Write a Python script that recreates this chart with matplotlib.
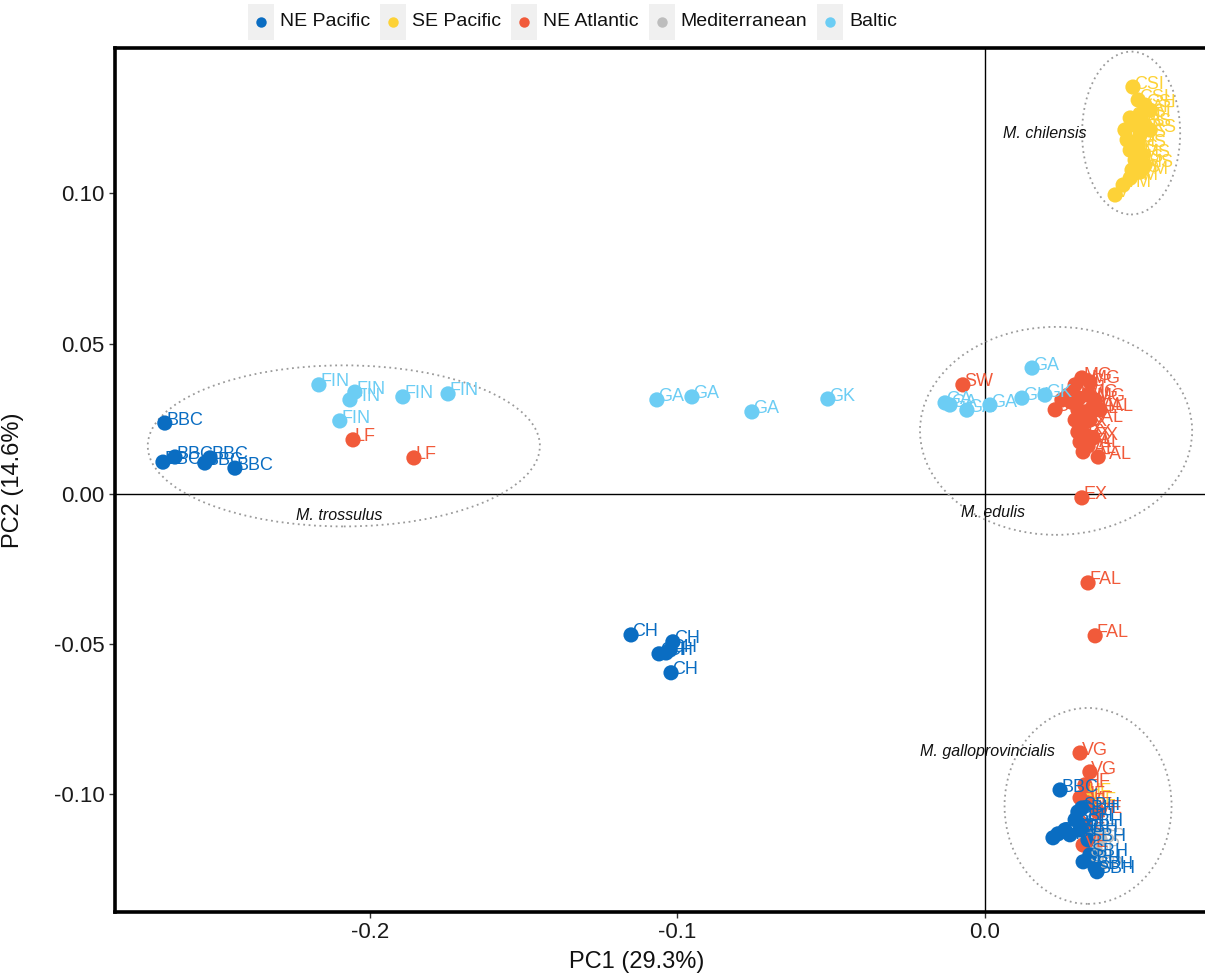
import matplotlib
matplotlib.use("Agg")
import matplotlib.pyplot as plt
from matplotlib.patches import Ellipse, Rectangle
from matplotlib.ticker import FormatStrFormatter

plt.rcParams['font.family'] = ['Liberation Sans', 'DejaVu Sans']

# --- data (PC scores) ---
regions = ["NE Pacific", "SE Pacific", "NE Atlantic", "Mediterranean", "Baltic"]
colors = ["#0a6dc2", "#fdd237", "#f15a3a", "#bdbdbd", "#6ccdf4"]

pc1_ne_pacific = [-0.2667, -0.2673, -0.2634, -0.2537, -0.2520, -0.2439,
                  -0.1151, -0.1060, -0.1037, -0.1015, -0.1024, -0.1021,
                  0.0244, 0.0221, 0.0237, 0.0260, 0.0293, 0.0302, 0.0315, 0.0325,
                  0.0335, 0.0319, 0.0341, 0.0364, 0.0358, 0.0276, 0.0309]
pc2_ne_pacific = [0.0236, 0.0106, 0.0123, 0.0103, 0.0120, 0.0086,
                  -0.0469, -0.0532, -0.0529, -0.0492, -0.0519, -0.0595,
                  -0.0985, -0.1144, -0.1131, -0.1118, -0.1084, -0.1058, -0.1045, -0.1101,
                  -0.1151, -0.1224, -0.1201, -0.1257, -0.1244, -0.1134, -0.1118]
lab_ne_pacific = ["BBC"] * 6 + ["CH"] * 6 + ["BBC", "CH", "CH", "SBH", "SBH", "SBH", "SBH", "SBH",
                                             "SBH", "SBH", "SBH", "SBH", "SBH", "CH", "SBH"]

pc1_se_pacific = [0.0481, 0.0498, 0.0520, 0.0537, 0.0504, 0.0472, 0.0488, 0.0520, 0.0455,
                  0.0504, 0.0537, 0.0462, 0.0498, 0.0472, 0.0511, 0.0488, 0.0520, 0.0478,
                  0.0504, 0.0472, 0.0449, 0.0423, 0.0330, 0.0345]
pc2_se_pacific = [0.1354, 0.1311, 0.1294, 0.1277, 0.1261, 0.1251, 0.1228, 0.1228, 0.1211,
                  0.1194, 0.1211, 0.1178, 0.1161, 0.1144, 0.1128, 0.1111, 0.1094, 0.1078,
                  0.1071, 0.1051, 0.1028, 0.0995, -0.1000, -0.1030]
lab_se_pacific = ["CSI", "CSI", "CSI", "AF", "CSI", "CSI", "RS", "RS", "RS",
                  "RS", "RS", "MS", "MS", "MS", "MS", "MS", "MS", "MS",
                  "VM", "VM", "VM", "V", "HF", "HF"]

pc1_ne_atlantic = [-0.2055, -0.1857, -0.0072,
                   0.0228, 0.0250, 0.0270, 0.0293, 0.0315, 0.0341, 0.0280, 0.0306, 0.0335,
                   0.0358, 0.0302, 0.0325, 0.0348, 0.0374, 0.0293, 0.0315, 0.0341, 0.0302,
                   0.0328, 0.0351, 0.0309, 0.0335, 0.0319, 0.0368,
                   0.0315, 0.0335, 0.0358,
                   0.0309, 0.0341, 0.0325, 0.0309, 0.0335, 0.0367, 0.0319, 0.0315]
pc2_ne_atlantic = [0.0180, 0.0120, 0.0363,
                   0.0280, 0.0313, 0.0329, 0.0363, 0.0386, 0.0373, 0.0306, 0.0319, 0.0329,
                   0.0313, 0.0280, 0.0273, 0.0286, 0.0280, 0.0246, 0.0230, 0.0246, 0.0206,
                   0.0196, 0.0186, 0.0173, 0.0160, 0.0140, 0.0123,
                   -0.0013, -0.0296, -0.0472,
                   -0.0862, -0.0925, -0.0968, -0.1011, -0.1028, -0.1058, -0.1168, -0.1111]
lab_ne_atlantic = ["LF", "LF", "SW",
                   "SW", "SW", "SW", "MG", "MG", "MG", "SW", "SW", "MG",
                   "MG", "FAL", "FAL", "FAL", "FAL", "EX", "EX", "FAL", "EX",
                   "EX", "EX", "FAL", "FAL", "FAL", "FAL",
                   "EX", "FAL", "FAL",
                   "VG", "VG", "HF", "HF", "VE", "VE", "VE", "VE"]

pc1_mediterranean = [0.0341, 0.0358, 0.0351, 0.0335, 0.0374, 0.0367]
pc2_mediterranean = [-0.1168, -0.1184, -0.1134, -0.1218, -0.1151, -0.1244]
lab_mediterranean = ["SP", "SP", "SP", "SP", "SP", "SP"]

pc1_baltic = [-0.2166, -0.2049, -0.2065, -0.1893, -0.1746, -0.2098,
              -0.1067, -0.0953, -0.0758, -0.0511,
              0.0153, -0.0130, -0.0114, -0.0059, 0.0016, 0.0120, 0.0195]
pc2_baltic = [0.0363, 0.0339, 0.0313, 0.0323, 0.0333, 0.0243,
              0.0313, 0.0323, 0.0273, 0.0316,
              0.0419, 0.0303, 0.0296, 0.0279, 0.0296, 0.0319, 0.0329]
lab_baltic = ["FIN"] * 6 + ["GA", "GA", "GA", "GK",
                            "GA", "GA", "GA", "GA", "GA", "GK", "GK"]

# species groups: centre, width, height (PC units) and annotation position
species = ["M. trossulus", "M. edulis", "M. chilensis", "M. galloprovincialis"]
ell_cx = [-0.2085, 0.0231, 0.0475, 0.0335]
ell_cy = [0.0160, 0.0210, 0.1201, -0.1038]
ell_w = [0.1275, 0.0885, 0.0319, 0.0543]
ell_h = [0.0536, 0.0692, 0.0542, 0.0652]
sp_x = [-0.2101, 0.0026, 0.0195, 0.0007]
sp_y = [-0.0070, -0.0060, 0.1201, -0.0858]

groups = [
    (pc1_ne_pacific, pc2_ne_pacific, lab_ne_pacific),
    (pc1_se_pacific, pc2_se_pacific, lab_se_pacific),
    (pc1_ne_atlantic, pc2_ne_atlantic, lab_ne_atlantic),
    (pc1_mediterranean, pc2_mediterranean, lab_mediterranean),
    (pc1_baltic, pc2_baltic, lab_baltic),
]

W, H = 1205, 974
fig = plt.figure(figsize=(W / 100, H / 100), dpi=100)
ax = fig.add_axes([115 / W, 62 / H, (1212 - 115) / W, (912 - 48) / H])
ax.set_xlim(-0.2829, 0.0738)
ax.set_ylim(-0.1391, 0.1484)

ax.axhline(0, color="black", lw=1.0, zorder=1)
ax.axvline(0, color="black", lw=1.0, zorder=1)

for cx, cy, w, h in zip(ell_cx, ell_cy, ell_w, ell_h):
    ax.add_patch(Ellipse((cx, cy), w, h, fill=False, ec="#9a9a9a",
                         ls=(0, (1, 2)), lw=1.3, zorder=2))

# draw order: Mediterranean under everything, then the rest
order = [3, 1, 2, 0, 4]
for i in order:
    x, y, _ = groups[i]
    ax.scatter(x, y, s=120, color=colors[i], edgecolors="none", zorder=3)
for i in order:
    x, y, labs = groups[i]
    for xi, yi, lab in zip(x, y, labs):
        ax.annotate(lab, (xi, yi), xytext=(1, -4), textcoords="offset points",
                    ha="left", va="bottom", fontsize=13, color=colors[i], zorder=4)

for name, tx, ty in zip(species, sp_x, sp_y):
    ax.text(tx, ty, name, ha="center", va="center", fontsize=11.5,
            style="italic", color="#111111", zorder=5)

ax.set_xticks([-0.2, -0.1, 0.0])
ax.set_yticks([-0.10, -0.05, 0.00, 0.05, 0.10])
ax.xaxis.set_major_formatter(FormatStrFormatter("%.1f"))
ax.yaxis.set_major_formatter(FormatStrFormatter("%.2f"))
ax.tick_params(labelsize=16, colors="#333333", length=4, width=1, labelcolor="#1a1a1a")
for side in ["left", "bottom", "top", "right"]:
    ax.spines[side].set_linewidth(2.6)
    ax.spines[side].set_color("black")

ax.set_xlabel("PC1 (29.3%)", fontsize=17, color="#111111")
ax.set_ylabel("PC2 (14.6%)", fontsize=17, color="#111111")
ax.xaxis.set_label_coords((637 - 115) / (1212 - 115), -0.045)
ax.yaxis.set_label_coords(-0.083, 0.5)

# legend across the top, ggplot style with grey key boxes
renderer = fig.canvas.get_renderer()
x0 = 248
for name, col in zip(regions, colors):
    fig.add_artist(Rectangle((x0 / W, 1 - 40 / H), 26 / W, 36 / H,
                             transform=fig.transFigure, fc="#f0f0f0", ec="none"))
    fig.add_artist(plt.Line2D([(x0 + 13) / W], [1 - 22 / H], marker="o", ms=7.5,
                              color=col, mec="none", transform=fig.transFigure))
    t = fig.text((x0 + 32) / W, 1 - 22 / H, name, fontsize=14, va="center",
                 ha="left", color="#111111")
    tw = t.get_window_extent(renderer).width
    x0 = x0 + 32 + tw + 10

fig.savefig("out.png", dpi=100)
